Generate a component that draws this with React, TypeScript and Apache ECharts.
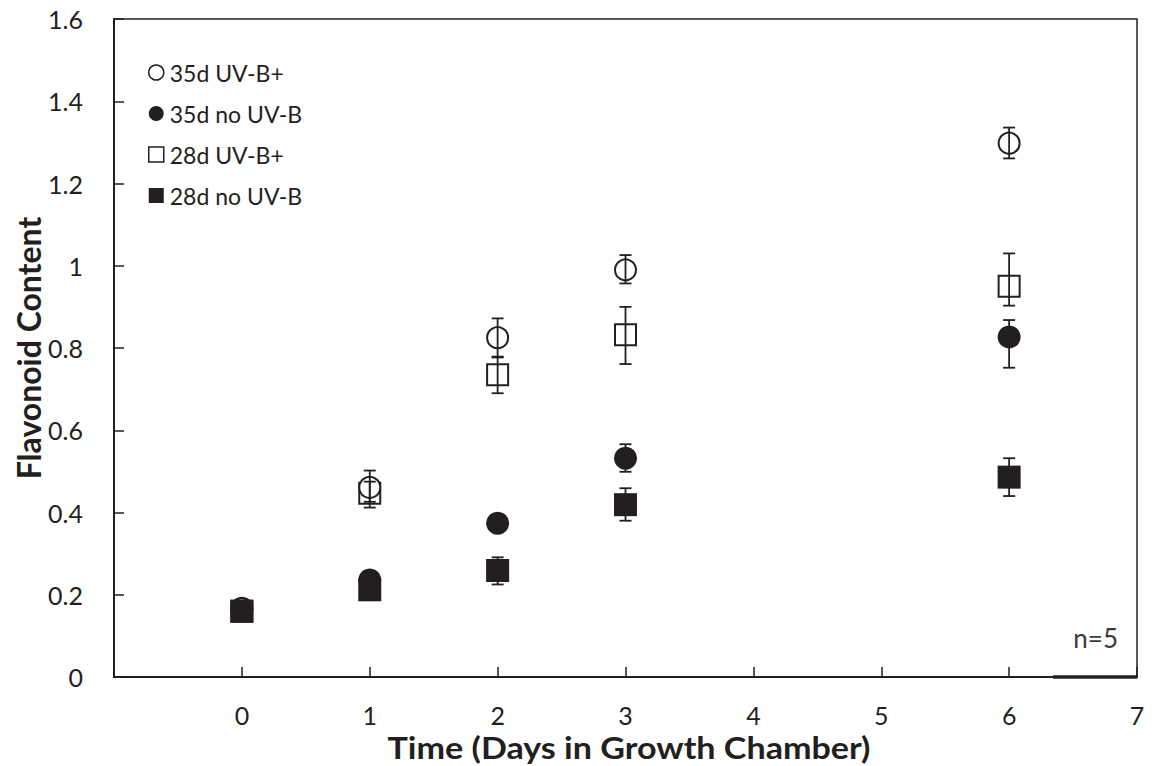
import React, { useEffect, useRef } from "react";
import * as echarts from "echarts";

const xDays = [0, 1, 2, 3, 6];
const xTicks = [-1, 0, 1, 2, 3, 4, 5, 6, 7];
const yTicks = [0, 0.2, 0.4, 0.6, 0.8, 1, 1.2, 1.4, 1.6];

const seriesNames = ["35d UV-B+", "35d no UV-B", "28d UV-B+", "28d no UV-B"];

const uvb35 = [0.165, 0.461, 0.825, 0.99, 1.298];
const uvb35Low = [null, 0.426, 0.779, 0.957, 1.261];
const uvb35High = [null, 0.502, 0.872, 1.026, 1.336];

const no35 = [0.167, 0.236, 0.374, 0.532, 0.827];
const no35Low = [null, null, null, 0.499, 0.752];
const no35High = [null, null, null, 0.566, 0.868];

const uvb28 = [0.16, 0.447, 0.735, 0.832, 0.95];
const uvb28Low = [null, 0.412, 0.69, 0.761, 0.903];
const uvb28High = [null, 0.475, 0.777, 0.9, 1.03];

const no28 = [0.16, 0.212, 0.259, 0.419, 0.486];
const no28Low = [null, null, 0.225, 0.38, 0.44];
const no28High = [null, null, 0.291, 0.459, 0.532];

const xTitle = "Time (Days in Growth Chamber)";
const yTitle = "Flavonoid Content";
const note = "n=5";

const INK = "#231f20";
const FONT = "Lato";

function pts(vals: number[]) {
  return xDays.map((x, i) => [x, vals[i]]);
}
function bars(lo: (number | null)[], hi: (number | null)[]) {
  const out: number[][] = [];
  xDays.forEach((x, i) => {
    if (lo[i] != null && hi[i] != null) out.push([x, lo[i] as number, hi[i] as number]);
  });
  return out;
}

function errorSeries(data: number[][]) {
  return {
    type: "custom",
    z: 5,
    silent: true,
    encode: { x: 0, y: [1, 2] },
    data,
    renderItem: (params: any, api: any) => {
      const x = api.value(0);
      const lo = api.coord([x, api.value(1)]);
      const hi = api.coord([x, api.value(2)]);
      const w = 6;
      const style = { stroke: INK, lineWidth: 1.8 };
      return {
        type: "group",
        children: [
          { type: "line", shape: { x1: lo[0], y1: lo[1], x2: hi[0], y2: hi[1] }, style },
          { type: "line", shape: { x1: lo[0] - w, y1: lo[1], x2: lo[0] + w, y2: lo[1] }, style },
          { type: "line", shape: { x1: hi[0] - w, y1: hi[1], x2: hi[0] + w, y2: hi[1] }, style },
        ],
      };
    },
  };
}

export default function App() {
  const ref = useRef<HTMLDivElement>(null);
  useEffect(() => {
    document.body.style.margin = "0";
    const chart = echarts.init(ref.current!, undefined, { renderer: "svg" });
    const openStyle = { color: "#ffffff", borderColor: INK, borderWidth: 2, opacity: 1 };
    const fillStyle = { color: INK, opacity: 1 };
    chart.setOption({
      animation: false,
      backgroundColor: "#ffffff",
      grid: {
        left: 114,
        right: 20,
        top: 19,
        bottom: 89,
        show: true,
        borderColor: INK,
        borderWidth: 1.5,
        backgroundColor: "transparent",
      },
      legend: {
        orient: "vertical",
        left: 143,
        top: 56,
        itemWidth: 15,
        itemHeight: 15,
        itemGap: 18,
        data: seriesNames,
        itemStyle: { borderWidth: 1.5 },
        textStyle: { fontFamily: FONT, fontSize: 23, color: INK, padding: [0, 0, 0, 1] },
        selectedMode: false,
      },
      xAxis: {
        type: "value",
        min: xTicks[0],
        max: xTicks[xTicks.length - 1],
        interval: 1,
        splitLine: { show: false },
        axisLine: { onZero: false, lineStyle: { color: INK, width: 2 } },
        axisTick: { inside: true, length: 10, lineStyle: { color: INK, width: 1.5 } },
        axisLabel: {
          margin: 25,
          fontFamily: FONT,
          fontSize: 25,
          color: INK,
          formatter: (v: number) => (v < 0 ? "" : String(v)),
        },
      },
      yAxis: {
        type: "value",
        min: yTicks[0],
        max: yTicks[yTicks.length - 1],
        interval: 0.2,
        splitLine: { show: false },
        axisLine: { onZero: false, lineStyle: { color: INK, width: 2 } },
        axisTick: { inside: true, length: 10, lineStyle: { color: INK, width: 1.5 } },
        axisLabel: {
          margin: 31,
          fontFamily: FONT,
          fontSize: 25,
          color: INK,
          formatter: (v: number) => String(Math.round(v * 10) / 10),
        },
      },
      graphic: [
        {
          type: "text",
          x: 629,
          y: 747,
          scaleX: 1.1,
          style: {
            text: xTitle,
            fontFamily: FONT,
            fontWeight: "bold",
            fontSize: 31,
            fill: INK,
            textAlign: "center",
            textVerticalAlign: "middle",
          },
        },
        {
          type: "text",
          x: 28,
          y: 348,
          rotation: Math.PI / 2,
          style: {
            text: yTitle,
            fontFamily: FONT,
            fontWeight: "bold",
            fontSize: 32,
            fill: INK,
            textAlign: "center",
            textVerticalAlign: "middle",
          },
        },
        {
          type: "text",
          x: 1118,
          y: 638,
          style: {
            text: note,
            fontFamily: FONT,
            fontSize: 26,
            fill: "#3a3a3a",
            textAlign: "right",
            textVerticalAlign: "middle",
          },
        },
        {
          type: "line",
          shape: { x1: 1053, y1: 677, x2: 1137, y2: 677 },
          style: { stroke: INK, lineWidth: 3.5 },
        },
      ],
      series: [
        { name: seriesNames[1], type: "scatter", symbol: "circle", symbolSize: 23, itemStyle: fillStyle, data: pts(no35), z: 2 },
        { name: seriesNames[2], type: "scatter", symbol: "rect", symbolSize: 21, itemStyle: openStyle, data: pts(uvb28), z: 2 },
        { name: seriesNames[0], type: "scatter", symbol: "circle", symbolSize: 21, itemStyle: openStyle, data: pts(uvb35), z: 2 },
        { name: seriesNames[3], type: "scatter", symbol: "rect", symbolSize: 23, itemStyle: fillStyle, data: pts(no28), z: 2 },
        errorSeries(bars(no35Low, no35High)),
        errorSeries(bars(uvb28Low, uvb28High)),
        errorSeries(bars(uvb35Low, uvb35High)),
        errorSeries(bars(no28Low, no28High)),
      ],
    });
    return () => chart.dispose();
  }, []);
  return <div ref={ref} style={{ width: 1157, height: 766 }} />;
}
